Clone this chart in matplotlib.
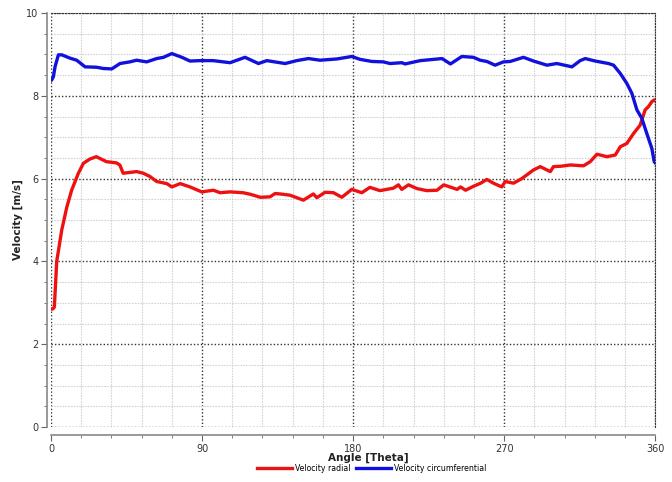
import matplotlib
matplotlib.use("Agg")
import matplotlib.pyplot as plt
from matplotlib.ticker import MultipleLocator

# Velocity radial (red)
radial_theta = [0, 1.0, 2.0, 3.4, 6.4, 9.4, 12.3, 16.3, 19.3, 23, 27, 33, 39, 41, 43, 47, 51, 55, 59, 63, 69, 72, 77,
                82.8, 89.8, 96.8, 100.7, 106.7, 114.4, 119, 124.6, 130.5, 133.5, 136.5, 142.4, 150.4, 156.3, 158.4,
                163.3, 168.3, 173.3, 179.2, 185.2, 190, 196, 204, 207, 209, 213, 218, 224, 230, 234, 242, 244, 247,
                252, 256, 259.7, 263.6, 268.6, 270.6, 275.6, 280.5, 287.5, 291.5, 297.5, 299.4, 304, 309.4, 317.3,
                321.3, 325.3, 331.2, 336.2, 339.2, 343.1, 347.1, 351, 354, 356, 358, 359.4, 360]
radial_vel = [2.85, 2.85, 2.9, 4.0, 4.76, 5.31, 5.72, 6.13, 6.37, 6.47, 6.53, 6.41, 6.38, 6.33, 6.13, 6.15, 6.17, 6.13,
              6.05, 5.93, 5.88, 5.80, 5.88, 5.80, 5.68, 5.72, 5.66, 5.68, 5.66, 5.62, 5.55, 5.56, 5.64, 5.63, 5.60,
              5.48, 5.63, 5.54, 5.67, 5.66, 5.55, 5.74, 5.66, 5.79, 5.71, 5.77, 5.85, 5.74, 5.85, 5.76, 5.71, 5.72,
              5.85, 5.74, 5.80, 5.72, 5.82, 5.89, 5.98, 5.89, 5.80, 5.93, 5.89, 6.0, 6.21, 6.29, 6.17, 6.29, 6.30,
              6.33, 6.31, 6.41, 6.59, 6.53, 6.57, 6.77, 6.85, 7.09, 7.29, 7.66, 7.74, 7.86, 7.90, 7.88]

# Velocity circumferential (blue)
circ_theta = [0, 0.4, 1.4, 2.4, 4.4, 6.4, 11.3, 15.3, 20.3, 27.2, 31.2, 36.2, 41.1, 47, 51, 57, 63, 67, 72, 78, 82.8,
              88.8, 96.6, 106.7, 115.6, 123.6, 128.6, 139.5, 146.4, 153.4, 160.3, 170.3, 179.2, 184.2, 191.2, 198,
              202, 209, 211, 220, 233, 238, 244.8, 251.7, 255.7, 259.7, 264.6, 269.6, 273.6, 281.5, 287.5, 295.5,
              301.4, 310.4, 315.3, 318.3, 324.3, 332.2, 335.2, 339.2, 343.1, 346.1, 349.1, 352, 355, 357, 358,
              359.4, 360]
circ_vel = [8.38, 8.38, 8.46, 8.70, 8.99, 8.99, 8.91, 8.86, 8.70, 8.69, 8.66, 8.65, 8.78, 8.82, 8.86, 8.82, 8.90, 8.93,
            9.02, 8.93, 8.84, 8.85, 8.85, 8.80, 8.93, 8.78, 8.85, 8.78, 8.85, 8.90, 8.86, 8.89, 8.95, 8.88, 8.83,
            8.82, 8.78, 8.80, 8.77, 8.85, 8.90, 8.77, 8.95, 8.93, 8.86, 8.83, 8.74, 8.82, 8.83, 8.93, 8.84, 8.74,
            8.78, 8.70, 8.85, 8.90, 8.84, 8.78, 8.74, 8.54, 8.30, 8.06, 7.66, 7.46, 7.09, 6.85, 6.73, 6.41, 6.38]

x_ticks = [0, 90, 180, 270, 360]
y_ticks = [0, 2, 4, 6, 8, 10]

fig = plt.figure(figsize=(6.72, 4.82), dpi=100)
ax = fig.add_axes([0.0759, 0.114, 0.975 - 0.0759, 0.973 - 0.114])

ax.plot(radial_theta, radial_vel, color='#ee1111', lw=2.4, label='Velocity radial', zorder=3)
ax.plot(circ_theta, circ_vel, color='#1111dd', lw=2.4, label='Velocity circumferential', zorder=3)

ax.set_xlim(0, 360)
ax.set_ylim(0, 10)
ax.set_xticks(x_ticks)
ax.set_yticks(y_ticks)
ax.xaxis.set_minor_locator(MultipleLocator(18))
ax.yaxis.set_minor_locator(MultipleLocator(0.5))

ax.grid(which='major', color='#333333', linestyle=(0, (1, 1.5)), linewidth=1.0, zorder=1)
ax.grid(which='minor', color='#d4d4d4', linestyle=(0, (1.5, 1)), linewidth=0.8, zorder=0)

for s in ['top', 'right']:
    ax.spines[s].set_linestyle((0, (1, 1.5)))
    ax.spines[s].set_color('#333333')
for s in ['left', 'bottom']:
    ax.spines[s].set_color('#888888')
    ax.spines[s].set_linewidth(1.2)
ax.spines['bottom'].set_position(('outward', 6))
ax.spines['left'].set_position(('outward', 3))

ax.tick_params(which='both', colors='#666666', labelsize=7, labelcolor='#333333')
ax.tick_params(which='major', length=4, pad=2)
ax.tick_params(which='minor', length=2)

ax.set_xlabel('Angle [Theta]', fontsize=7.5, fontweight='bold', color='#222222')
ax.xaxis.set_label_coords(0.526, -0.062)
ax.set_ylabel('Velocity [m/s]', fontsize=7.5, fontweight='bold', color='#222222')
ax.yaxis.set_label_coords(-0.046, 0.5)

fig.legend(loc='center', bbox_to_anchor=(0.553, 0.029), ncol=2, frameon=False, fontsize=5.6,
           handlelength=4.5, columnspacing=0.6, handletextpad=0.4)

fig.savefig('out.png', dpi=100)
